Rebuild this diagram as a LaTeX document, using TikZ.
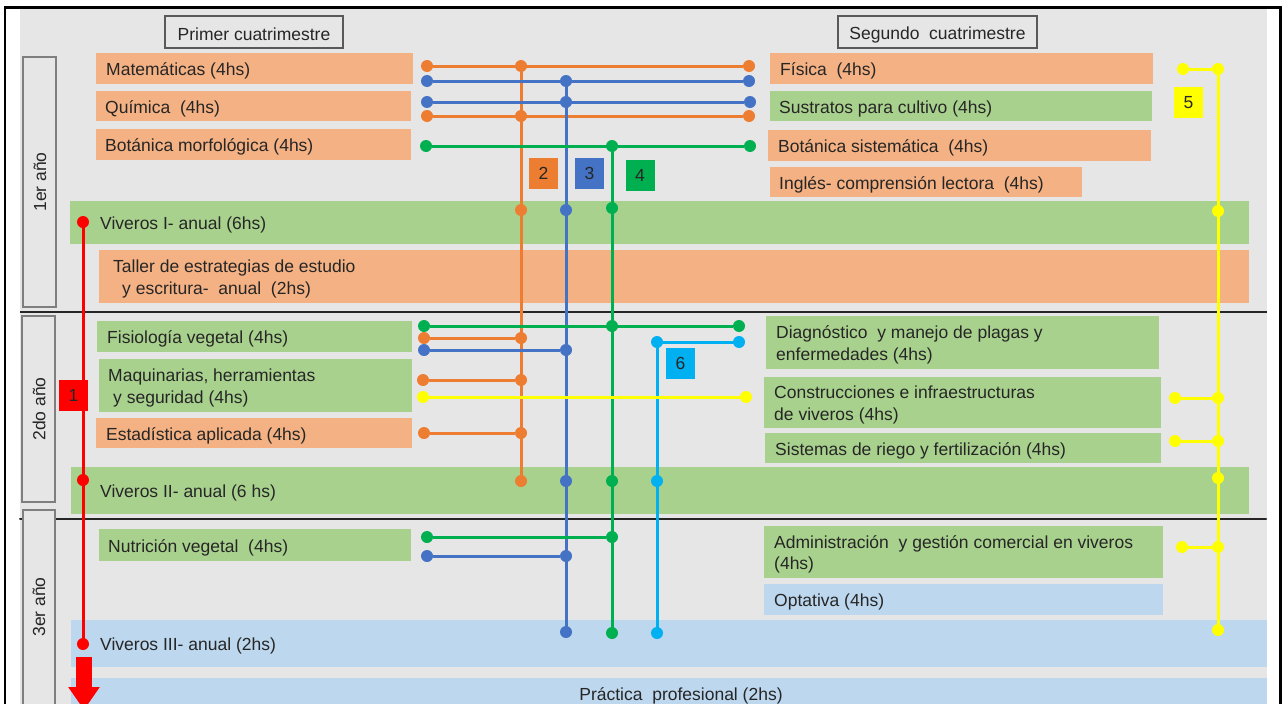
\documentclass[tikz,border=0pt]{standalone}
\usepackage{fontspec}
\setmainfont{Liberation Sans}
\usetikzlibrary{arrows.meta}
\definecolor{bg}{HTML}{E7E6E6}
\definecolor{fo}{HTML}{F4B183}
\definecolor{fg}{HTML}{A9D18E}
\definecolor{fb}{HTML}{BDD7EE}
\definecolor{lo}{HTML}{ED7D31}
\definecolor{lb}{HTML}{4472C4}
\definecolor{lg}{HTML}{00B050}
\definecolor{lc}{HTML}{00B0F0}
\definecolor{ly}{HTML}{FFFF00}
\definecolor{lr}{HTML}{FF0000}
\definecolor{tx}{HTML}{262626}
\definecolor{brd}{HTML}{7F7F7F}
\definecolor{hbrd}{HTML}{595959}
\tikzset{
  txt/.style={anchor=west, inner sep=0pt, yshift=-2.5pt, text=tx, font=\fontsize{17.5pt}{21.5pt}\selectfont, align=left},
  dot/.style={circle, fill=#1, inner sep=0pt, minimum size=12pt},
  ln/.style={draw=#1, line width=3pt},
  num/.style={fill=#1, minimum width=29pt, minimum height=31pt, inner sep=0pt, text=tx, font=\fontsize{17.5pt}{21.5pt}\selectfont},
  hdr/.style={draw=hbrd, line width=1.2pt, fill=bg, minimum height=32pt, inner sep=0pt},
  yearbox/.style={draw=brd, line width=1.2pt, fill=bg},
  yeartxt/.style={rotate=90, inner sep=0pt, text=tx, font=\fontsize{17.5pt}{21.5pt}\selectfont},
}
\newcommand\crs[8]{\fill[#2] (#3,#4) rectangle (#5,#6); \node[txt] (#1) at (#7,{(#4+#6)/2}) {#8};}
\begin{document}
\begin{tikzpicture}[x=1pt,y=-1pt]
\clip (0,0) rectangle (1288,704);
\fill[white] (0,0) rectangle (1288,704);
\fill[bg] (20,9) rectangle (1267,720);
\draw[line width=2.5pt] (5,7.5) rectangle (1280.5,730);
% dividers
\draw[line width=2pt, black!85] (20,312) -- (1267,312);
\draw[line width=2pt, black!85, line cap=round] (20,519) -- (1266,519);
% year boxes
\draw[yearbox] (23,57) rectangle (56,307);
\node[yeartxt] (y1t) at (40,182) {1er año};
\draw[yearbox] (22,316) rectangle (55,502);
\node[yeartxt] (y2t) at (39,409) {2do año};
\draw[yearbox] (23,510) rectangle (55,706);
\node[yeartxt] (y3t) at (39,607) {3er año};
% headers
\node[hdr, minimum width=178pt] (h1) at (254,32) {};
\node[txt, anchor=center] (h1t) at (h1.center) {Primer cuatrimestre};
\node[hdr, minimum width=199pt] (h2) at (937.5,32) {};
\node[txt, anchor=center] (h2t) at (h2.center) {Segundo\ \ cuatrimestre};
% courses 1er
\crs{mat}{fo}{96}{53}{413}{84}{106}{Matemáticas (4hs)}
\crs{qui}{fo}{96}{91}{411}{121}{105}{Química\ \ (4hs)}
\crs{bmo}{fo}{96}{129}{411}{160}{105}{Botánica morfológica (4hs)}
\crs{viv1}{fg}{70}{201}{1249}{244}{100}{Viveros I- anual (6hs)}
\crs{tal}{fo}{99}{250}{1249}{303}{113}{Taller de estrategias de estudio\\\hspace*{9pt}y escritura-\ \ anual\ \ (2hs)}
\crs{fis}{fo}{770}{53}{1153}{84}{780}{Física\ \ (4hs)}
\crs{sus}{fg}{770}{91}{1152}{121}{779}{Sustratos para cultivo (4hs)}
\crs{bsi}{fo}{768}{130}{1151}{161}{778}{Botánica sistemática\ \ (4hs)}
\crs{ing}{fo}{770}{167}{1082}{197}{779}{Inglés- comprensión lectora\ \ (4hs)}
% courses 2do
\crs{fisv}{fg}{97}{321}{412}{352}{107}{Fisiología vegetal (4hs)}
\crs{maq}{fg}{99}{359}{412}{412}{108}{Maquinarias, herramientas\\\hspace*{5pt}y seguridad (4hs)}
\crs{est}{fo}{96}{418}{412}{448}{106}{Estadística aplicada (4hs)}
\crs{viv2}{fg}{71}{467}{1249}{514}{100}{Viveros II- anual (6 hs)}
\crs{dia}{fg}{766}{316}{1159}{369}{776}{Diagnóstico\ \ y manejo de plagas y\\enfermedades (4hs)}
\crs{con}{fg}{764}{377}{1161}{428}{774}{Construcciones e infraestructuras\\de viveros (4hs)}
\crs{rie}{fg}{765}{433}{1161}{463}{775}{Sistemas de riego y fertilización (4hs)}
% courses 3er
\crs{nut}{fg}{99}{529}{411}{561}{108}{Nutrición vegetal\ \ (4hs)}
\crs{viv3}{fb}{71}{620}{1267}{667}{100}{Viveros III- anual (2hs)}
\crs{adm}{fg}{764}{526}{1163}{578}{774}{Administración\ \ y gestión comercial en viveros\\(4hs)}
\crs{opt}{fb}{764}{584}{1163}{615}{774}{Optativa (4hs)}
\fill[fb] (71,678) rectangle (1267,720);
\node[txt, anchor=center] (pra) at (681,693) {Práctica\ \ profesional (2hs)};
% dots
\foreach \n/\x/\y in {o1a/427/66,o1b/749/66,oj1/521/66,o2a/427/116,o2b/749/116,oj2/521/116,ov1/521/210,oj3/521/338,oj4/521/380,oj5/521/433,oe/521/481,o3a/424/338,o4a/423/380,o5a/424/433}
  \node[dot=lo] (\n) at (\x,\y) {};
\foreach \n/\x/\y in {b1a/427/81,b1b/749/81,bj1/566/81,b2a/427/102,b2b/750/102,bj2/566/102,bv1/566/210,bj3/566/350,bv2/566/481,bj4/566/556,be/566/632,b3a/424/350,b4a/427/556}
  \node[dot=lb] (\n) at (\x,\y) {};
\foreach \n/\x/\y in {g1a/426/146,g1b/750/146,gj1/612/146,gv1/612/208,gj2/612/326,gv2/612/481,gj3/612/537,ge/612/633,g2a/424/326,g2b/739/326,g3a/427/537}
  \node[dot=lg] (\n) at (\x,\y) {};
\foreach \n/\x/\y in {c1b/739/342,cj/657/342,cv/657/481,ce/657/633}
  \node[dot=lc] (\n) at (\x,\y) {};
\foreach \n/\x/\y in {y0a/423/397,y0b/746/397,yj1/1218/69,y1a/1183/69,yv1/1218/211,yj2/1218/398,y2a/1175/398,yj3/1218/441,y3a/1175/441,yv2/1218/478,yj4/1218/547,y4a/1182/547,ye/1218/630}
  \node[dot=ly] (\n) at (\x,\y) {};
\foreach \n/\x/\y in {r1/83/222,r2/83/480,r3/83/644}
  \node[dot=lr] (\n) at (\x,\y) {};
% orange lines
\draw[ln=lo] (o1a) -- (o1b);
\draw[ln=lo] (o2a) -- (o2b);
\draw[ln=lo] (oj1.center) -- (oe.center);
\draw[ln=lo] (o3a) -- (oj3);
\draw[ln=lo] (o4a) -- (oj4);
\draw[ln=lo] (o5a) -- (oj5);
% blue lines
\draw[ln=lb] (b1a) -- (b1b);
\draw[ln=lb] (b2a) -- (b2b);
\draw[ln=lb] (bj1.center) -- (be.center);
\draw[ln=lb] (b3a) -- (bj3);
\draw[ln=lb] (b4a) -- (bj4);
% green lines
\draw[ln=lg] (g1a) -- (g1b);
\draw[ln=lg] (gj1.center) -- (ge.center);
\draw[ln=lg] (g2a) -- (g2b);
\draw[ln=lg] (g3a) -- (gj3);
% cyan
\draw[ln=lc] (c1b.center) -- (cj.center) -- (ce.center);
% yellow
\draw[ln=ly] (y0a) -- (y0b);
\draw[ln=ly] (yj1.center) -- (ye.center);
\draw[ln=ly] (y1a) -- (yj1);
\draw[ln=ly] (y2a) -- (yj2);
\draw[ln=ly] (y3a) -- (yj3);
\draw[ln=ly] (y4a) -- (yj4);
% red
\draw[ln=lr] (r1.center) -- (r3.center);
\coordinate (ra) at (84,657);
\coordinate (rb) at (84,710);
\draw[draw=lr, line width=15.5pt, -{Triangle[width=30pt,length=23pt]}] (ra) -- (rb);
% number boxes
\node[num=lr] (n1) at (73.5,395) {1};
\node[num=lo] (n2) at (543.5,173.5) {2};
\node[num=lb] (n3) at (589.5,173.5) {3};
\node[num=lg] (n4) at (640,175) {4};
\node[num=ly] (n5) at (1188.5,102.5) {5};
\node[num=lc] (n6) at (680.5,363.5) {6};
\end{tikzpicture}
\end{document}
